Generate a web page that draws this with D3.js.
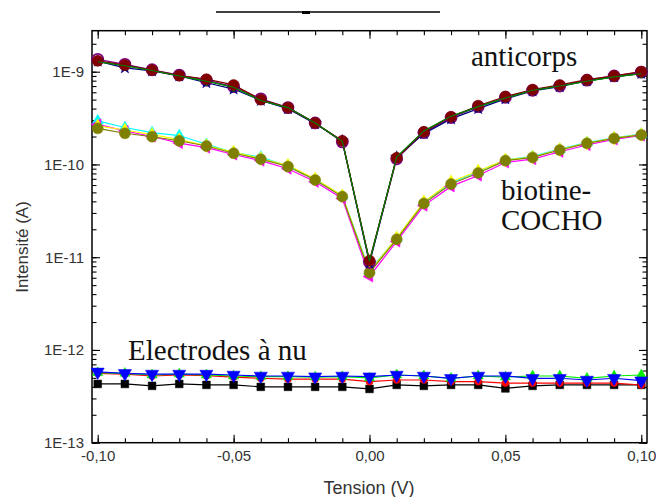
<!DOCTYPE html>
<html><head><meta charset="utf-8">
<script src="https://cdn.jsdelivr.net/npm/d3@7"></script>
<style>body{margin:0;background:#fff}svg{display:block}</style>
</head><body>
<svg id="c" width="656" height="497"></svg>
<script>
const voltages = [-0.10,-0.09,-0.08,-0.07,-0.06,-0.05,-0.04,-0.03,-0.02,-0.01,0.00,0.01,0.02,0.03,0.04,0.05,0.06,0.07,0.08,0.09,0.10];

// anticorps (A)
const antiRed    = [1.31e-9,1.18e-9,1.04e-9,9.1e-10,8.3e-10,7.2e-10,5.0e-10,4.1e-10,2.8e-10,1.8e-10,9.2e-12,1.18e-10,2.25e-10,3.27e-10,4.3e-10,5.4e-10,6.4e-10,7.2e-10,8.2e-10,9.0e-10,1.0e-9];
const antiPurple = [1.36e-9,1.20e-9,1.05e-9,9.2e-10,8.1e-10,6.9e-10,5.1e-10,4.1e-10,2.8e-10,1.75e-10,8.8e-12,1.15e-10,2.2e-10,3.2e-10,4.2e-10,5.3e-10,6.3e-10,7.0e-10,8.1e-10,9.0e-10,9.9e-10];
const antiNavy   = [1.30e-9,1.10e-9,1.02e-9,9.0e-10,7.6e-10,6.5e-10,4.9e-10,4.0e-10,2.75e-10,1.8e-10,8.6e-12,1.2e-10,2.15e-10,3.1e-10,4.0e-10,5.1e-10,6.2e-10,6.9e-10,8.0e-10,8.8e-10,9.6e-10];
const antiGreen  = [1.28e-9,1.16e-9,1.03e-9,9.0e-10,7.9e-10,6.8e-10,4.9e-10,4.1e-10,2.8e-10,1.78e-10,9.0e-12,1.2e-10,2.3e-10,3.3e-10,4.2e-10,5.2e-10,6.3e-10,7.0e-10,7.9e-10,8.8e-10,9.5e-10];

// biotine-COCHO (A)
const bioOlive   = [2.45e-10,2.17e-10,1.99e-10,1.80e-10,1.58e-10,1.32e-10,1.14e-10,9.5e-11,6.8e-11,4.5e-11,6.8e-12,1.56e-11,3.8e-11,6.15e-11,8.1e-11,1.10e-10,1.19e-10,1.43e-10,1.69e-10,1.91e-10,2.08e-10];
const bioCyan    = [2.95e-10,2.5e-10,2.2e-10,2.05e-10,1.65e-10,1.35e-10,1.2e-10,9.6e-11,6.9e-11,4.6e-11,7.2e-12,1.6e-11,3.9e-11,6.3e-11,8.4e-11,1.12e-10,1.22e-10,1.46e-10,1.72e-10,1.93e-10,2.12e-10];
const bioMagenta = [2.7e-10,2.3e-10,2.0e-10,1.7e-10,1.52e-10,1.28e-10,1.1e-10,9.0e-11,6.5e-11,4.3e-11,6.2e-12,1.48e-11,3.6e-11,5.8e-11,7.6e-11,1.05e-10,1.14e-10,1.37e-10,1.62e-10,1.86e-10,2.05e-10];
const bioYellow  = [2.6e-10,2.35e-10,2.1e-10,1.85e-10,1.6e-10,1.36e-10,1.16e-10,9.8e-11,7.0e-11,4.6e-11,7.0e-12,1.62e-11,3.95e-11,6.5e-11,8.5e-11,1.12e-10,1.2e-10,1.45e-10,1.7e-10,1.92e-10,2.1e-10];

// electrodes a nu (A)
const elecBlack = [4.3e-13,4.3e-13,4.1e-13,4.3e-13,4.2e-13,4.2e-13,4.0e-13,4.0e-13,4.0e-13,4.0e-13,3.8e-13,4.2e-13,4.1e-13,4.2e-13,4.2e-13,3.85e-13,4.1e-13,4.2e-13,4.2e-13,4.2e-13,4.2e-13];
const elecRed   = [5.6e-13,5.5e-13,5.24e-13,5.37e-13,5.28e-13,5.1e-13,4.95e-13,4.85e-13,4.85e-13,4.85e-13,4.56e-13,4.74e-13,4.74e-13,4.56e-13,4.56e-13,4.39e-13,4.39e-13,4.39e-13,4.39e-13,4.39e-13,4.19e-13];
const elecGreen = [5.69e-13,5.6e-13,5.37e-13,5.5e-13,5.37e-13,5.24e-13,5.15e-13,5.15e-13,5.1e-13,5.15e-13,5.0e-13,5.37e-13,5.24e-13,4.95e-13,5.24e-13,5.1e-13,5.24e-13,5.24e-13,4.95e-13,5.24e-13,5.37e-13];
const elecBlue  = [5.8e-13,5.6e-13,5.5e-13,5.5e-13,5.5e-13,5.37e-13,5.24e-13,5.24e-13,5.15e-13,5.24e-13,5.15e-13,5.37e-13,5.24e-13,4.95e-13,5.24e-13,5.24e-13,4.95e-13,4.95e-13,4.74e-13,4.95e-13,4.66e-13];

const xTicks = [-0.10,-0.05,0.00,0.05,0.10];
const xTickLabels = ["-0,10","-0,05","0,00","0,05","0,10"];
const yTicks = [1e-13,1e-12,1e-11,1e-10,1e-9];
const yTickLabels = ["1E-13","1E-12","1E-11","1E-10","1E-9"];
const annotations = ["anticorps","biotine-","COCHO","Electrodes à nu"];
const xTitle = "Tension (V)";
const yTitle = "Intensité (A)";

const series = [
  {v: elecBlack, color:"#000000", sym:"square", size:60},
  {v: elecRed, color:"#ff0000", sym:"circle", size:40},
  {v: elecGreen, color:"#00ee00", sym:"triangle", size:45},
  {v: elecBlue, color:"#0000ff", sym:"triDown", size:75},
  {v: bioCyan, color:"#00ffff", sym:"triangle", size:55},
  {v: bioMagenta, color:"#ff00ff", sym:"triLeft", size:55},
  {v: bioYellow, color:"#ffff00", sym:"diamond", size:55},
  {v: bioOlive, color:"#808000", sym:"circle", size:95},
  {v: antiPurple, color:"#800080", sym:"circleOpen", size:95},
  {v: antiNavy, color:"#000080", sym:"star", size:45},
  {v: antiGreen, color:"#008000", sym:"cross", size:35},
  {v: antiRed, color:"#800000", sym:"circle", size:95},
];

const svg = d3.select("#c");
const L=92, R=647, T=30.7, B=442.7;
const x = d3.scaleLinear().domain([-0.1021,0.1021]).range([L,R]);
const y = d3.scaleLog().domain([1e-13, Math.pow(10,-8.558)]).range([B,T]);

// cropped title fragment
svg.append("line").attr("x1",216).attr("x2",440).attr("y1",12).attr("y2",12).attr("stroke","#000").attr("stroke-width",1.4);
svg.append("rect").attr("x",302).attr("y",11).attr("width",8).attr("height",3).attr("fill","#000");

const minorX = d3.range(-10,11).map(i=>i/100);
const minorY = [];
for (let e=-13;e<=-9;e++) for (let m=1;m<=9;m++){const v=m*Math.pow(10,e); if(v<=y.domain()[1]) minorY.push(v);}

function styleAxis(g){g.select(".domain").remove();g.selectAll("line").attr("stroke","#000").attr("stroke-width",1.1);}

svg.append("g").attr("transform",`translate(0,${B})`).call(d3.axisBottom(x).tickValues(minorX).tickSize(-4.5).tickFormat("")).call(styleAxis);
svg.append("g").attr("transform",`translate(0,${T})`).call(d3.axisTop(x).tickValues(minorX).tickSize(-4.5).tickFormat("")).call(styleAxis);
const xb = svg.append("g").attr("transform",`translate(0,${B})`).call(d3.axisBottom(x).tickValues(xTicks).tickSize(-8).tickPadding(8).tickFormat((d,i)=>xTickLabels[i])).call(styleAxis);
svg.append("g").attr("transform",`translate(0,${T})`).call(d3.axisTop(x).tickValues(xTicks).tickSize(-8).tickFormat("")).call(styleAxis);
svg.append("g").attr("transform",`translate(${L},0)`).call(d3.axisLeft(y).tickValues(minorY).tickSize(-4.5).tickFormat("")).call(styleAxis);
svg.append("g").attr("transform",`translate(${R},0)`).call(d3.axisRight(y).tickValues(minorY).tickSize(-4.5).tickFormat("")).call(styleAxis);
const yl = svg.append("g").attr("transform",`translate(${L},0)`).call(d3.axisLeft(y).tickValues(yTicks).tickSize(-8).tickPadding(8).tickFormat((d,i)=>yTickLabels[i])).call(styleAxis);
svg.append("g").attr("transform",`translate(${R},0)`).call(d3.axisRight(y).tickValues(yTicks).tickSize(-8).tickFormat("")).call(styleAxis);

[xb,yl].forEach(g=>g.selectAll("text").attr("font-family","Liberation Sans, Arial, sans-serif").attr("font-size",15).attr("fill","#333"));

svg.append("rect").attr("x",L).attr("y",T).attr("width",R-L).attr("height",B-T).attr("fill","none").attr("stroke","#000").attr("stroke-width",1.5);

svg.append("text").attr("x",369).attr("y",494).attr("text-anchor","middle").attr("font-family","Liberation Sans, Arial, sans-serif").attr("font-size",18).attr("fill","#333").text(xTitle);
svg.append("text").attr("transform","translate(28,247) rotate(-90)").attr("text-anchor","middle").attr("font-family","Liberation Sans, Arial, sans-serif").attr("font-size",17).attr("fill","#333").text(yTitle);

const line = d3.line().x((d,i)=>x(voltages[i])).y(d=>y(d));
const symMap = {
  square:d3.symbolSquare, circle:d3.symbolCircle, triangle:d3.symbolTriangle, diamond:d3.symbolDiamond,
  star:d3.symbolStar, cross:d3.symbolCross, circleOpen:d3.symbolCircle
};
series.forEach(s=>{
  svg.append("path").datum(s.v).attr("d",line).attr("fill","none").attr("stroke",s.color).attr("stroke-width",1.2);
});
series.forEach(s=>{
  const g = svg.append("g");
  g.selectAll("path.m").data(s.v).join("path").attr("class","m")
    .attr("transform",(d,i)=>{
      let rot = s.sym==="triDown"?180:(s.sym==="triLeft"?-90:0);
      return `translate(${x(voltages[i])},${y(d)}) rotate(${rot})`;
    })
    .attr("d",d3.symbol().type(s.sym==="triDown"||s.sym==="triLeft"?d3.symbolTriangle:symMap[s.sym]).size(s.size))
    .attr("fill",s.sym==="circleOpen"?"none":s.color)
    .attr("stroke",s.color).attr("stroke-width",s.sym==="circleOpen"?1.8:0.5);
});
svg.append("path").datum(antiGreen).attr("d",line).attr("fill","none").attr("stroke","#008000").attr("stroke-width",1.1);

const serif = "Liberation Serif, Times New Roman, serif";
svg.append("text").attr("x",471).attr("y",66).attr("font-family",serif).attr("font-size",29).attr("fill","#111").text(annotations[0]);
svg.append("text").attr("x",501).attr("y",200).attr("font-family",serif).attr("font-size",29).attr("fill","#111").text(annotations[1]);
svg.append("text").attr("x",501).attr("y",230).attr("font-family",serif).attr("font-size",29).attr("fill","#111").text(annotations[2]);
svg.append("text").attr("x",128).attr("y",360).attr("font-family",serif).attr("font-size",29).attr("fill","#111").text(annotations[3]);
</script>
</body></html>
